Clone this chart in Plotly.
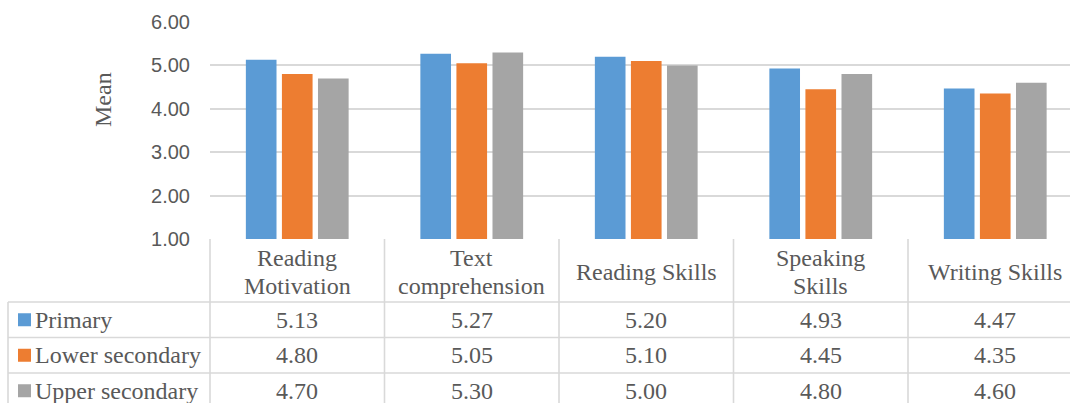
import plotly.graph_objects as go

# ---------------- data ----------------
categories = ["Reading<br>Motivation", "Text<br>comprehension", "Reading Skills",
              "Speaking<br>Skills", "Writing Skills"]
series_names = ["Primary", "Lower secondary", "Upper secondary"]
primary = [5.13, 5.27, 5.20, 4.93, 4.47]
lower_secondary = [4.80, 5.05, 5.10, 4.45, 4.35]
upper_secondary = [4.70, 5.30, 5.00, 4.80, 4.60]
y_ticks = [1, 2, 3, 4, 5, 6]
y_title = "Mean"

series_values = [primary, lower_secondary, upper_secondary]
colors = ["#5B9BD5", "#ED7D31", "#A5A5A5"]

# ---------------- layout constants ----------------
W, H = 1070, 403
ML, MR, MT, MB = 210, 0, 22, 164
COL_W = 174.5
PLOT_W = W - ML - MR
PLOT_H = H - MT - MB
x_range = [-0.5, -0.5 + PLOT_W / COL_W]

GRID = "#D9D9D9"
TXT = "#595959"
SERIF = "Liberation Serif, Times New Roman, serif"
SANS = "Liberation Sans, Arial, sans-serif"


def px_x(p):
    return (p - ML) / PLOT_W


def px_y(p):
    return (H - MB - p) / PLOT_H


def data_to_px_x(v):
    return ML + (v - x_range[0]) / (x_range[1] - x_range[0]) * PLOT_W


fig = go.Figure()
idx = list(range(len(categories)))
for name, vals, col in zip(series_names, series_values, colors):
    fig.add_trace(go.Bar(x=idx, y=vals, name=name, marker=dict(color=col, line=dict(width=0)),
                         showlegend=False))

shapes = []
annotations = []

# table geometry (pixels)
HEADER_TOP = H - MB
HEADER_BOT = 302
ROW_H = 35.5
TABLE_LEFT = 8
n_rows = len(series_names)
row_tops = [HEADER_BOT + ROW_H * j for j in range(n_rows + 1)]

line = dict(color=GRID, width=1.6)
# horizontal row lines
for yt in row_tops:
    shapes.append(dict(type="line", xref="paper", yref="paper",
                       x0=px_x(TABLE_LEFT), x1=px_x(W), y0=px_y(yt), y1=px_y(yt), line=line))
# left border of legend column
shapes.append(dict(type="line", xref="paper", yref="paper",
                   x0=px_x(TABLE_LEFT), x1=px_x(TABLE_LEFT), y0=px_y(HEADER_BOT), y1=px_y(H + 20),
                   line=line))
# column separators from category boundaries
for i in range(len(categories) + 1):
    xp = data_to_px_x(i - 0.5)
    if xp > W:
        continue
    shapes.append(dict(type="line", xref="paper", yref="paper",
                       x0=px_x(xp), x1=px_x(xp), y0=px_y(HEADER_TOP), y1=px_y(H + 20), line=line))

# header labels
for i, cat in enumerate(categories):
    parts = cat.split("<br>")
    if len(parts) == 1:
        centers = [272]
    else:
        centers = [258, 286]
    for part, cy in zip(parts, centers):
        annotations.append(dict(x=i, xref="x", y=px_y(cy), yref="paper", text=part,
                                showarrow=False, xanchor="center", yanchor="middle",
                                font=dict(family=SERIF, size=24, color=TXT)))

# data cells and legend keys
for j, (name, vals, col) in enumerate(zip(series_names, series_values, colors)):
    cy = row_tops[j] + ROW_H / 2
    for i, v in enumerate(vals):
        annotations.append(dict(x=i, xref="x", y=px_y(cy), yref="paper", text=f"{v:.2f}",
                                showarrow=False, xanchor="center", yanchor="middle",
                                font=dict(family=SERIF, size=24, color=TXT)))
    shapes.append(dict(type="rect", xref="paper", yref="paper",
                       x0=px_x(18), x1=px_x(31), y0=px_y(cy - 6.5), y1=px_y(cy + 6.5),
                       fillcolor=col, line=dict(width=0)))
    annotations.append(dict(x=px_x(33), xref="paper", y=px_y(cy), yref="paper", text=name,
                            showarrow=False, xanchor="left", yanchor="middle",
                            font=dict(family=SERIF, size=24, color=TXT)))

# y-axis title
annotations.append(dict(x=px_x(103), xref="paper", y=px_y(100), yref="paper", text=y_title,
                        textangle=-90, showarrow=False, xanchor="center", yanchor="middle",
                        font=dict(family=SERIF, size=24, color=TXT)))

fig.update_layout(
    width=W, height=H,
    margin=dict(l=ML, r=MR, t=MT, b=MB, pad=0),
    paper_bgcolor="white", plot_bgcolor="white",
    barmode="group", bargap=0.38, bargroupgap=0.15,
    xaxis=dict(range=x_range, showticklabels=False, showgrid=False, zeroline=False,
               showline=False, ticks=""),
    yaxis=dict(range=[1, 6], tickvals=y_ticks, tickformat=".2f", showgrid=True,
               gridcolor=GRID, gridwidth=1.6, zeroline=False, showline=False,
               ticks="outside", ticklen=15, tickcolor="rgba(0,0,0,0)",
               tickfont=dict(family=SANS, size=20, color=TXT)),
    shapes=shapes,
    annotations=annotations,
)

fig.write_html("out.html")
